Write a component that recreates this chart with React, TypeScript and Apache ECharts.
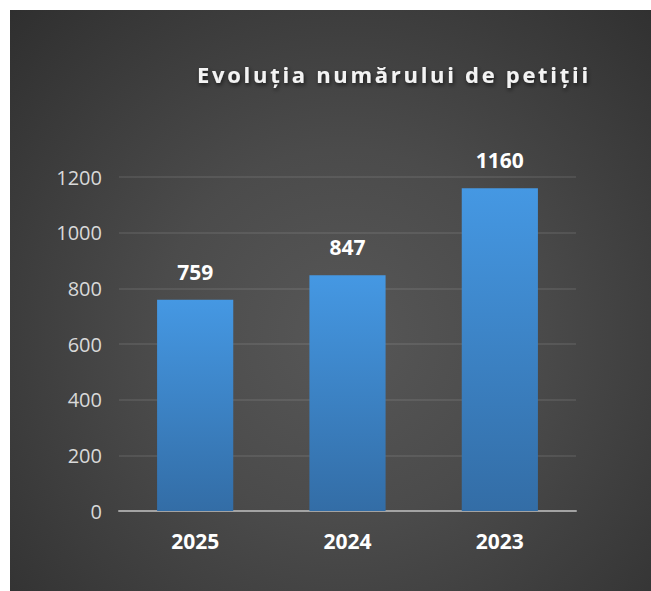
import React, { useEffect, useRef } from "react";
import * as echarts from "echarts";

const titleText = "Evoluția numărului de petiții";
const categories = ["2025", "2024", "2023"];
const petitions = [759, 847, 1160];
const yMin = 0;
const yMax = 1200;
const yStep = 200;

const TITLE_FILL = "#f3f3f3";

export default function App() {
  const ref = useRef<HTMLDivElement>(null);

  useEffect(() => {
    if (!ref.current) return;
    const chart = echarts.init(ref.current, undefined, { renderer: "svg" });
    chart.setOption({
      animation: false,
      backgroundColor: "transparent",
      title: {
        text: titleText,
        left: 197,
        top: 59,
        padding: 0,
        textStyle: {
          color: TITLE_FILL,
          fontFamily: "Open Sans",
          fontWeight: "bold",
          fontSize: 22,
          lineHeight: 30,
          textShadowColor: "rgba(0,0,0,0.65)",
          textShadowBlur: 4,
          textShadowOffsetX: 1,
          textShadowOffsetY: 2,
        },
      },
      grid: { left: 119, right: 75, top: 177, bottom: 80, containLabel: false },
      xAxis: {
        type: "category",
        data: categories,
        axisLine: { show: true, lineStyle: { color: "#a3a3a3", width: 2 } },
        axisTick: { show: false },
        axisLabel: {
          color: "#ffffff",
          fontFamily: "Open Sans",
          fontWeight: "bold",
          fontSize: 21,
          lineHeight: 22,
          margin: 19,
        },
      },
      yAxis: {
        type: "value",
        min: yMin,
        max: yMax,
        interval: yStep,
        axisLine: { show: false },
        axisTick: { show: false },
        splitLine: { lineStyle: { color: "rgba(255,255,255,0.11)", width: 1.5 } },
        axisLabel: {
          color: "#d9d9d9",
          fontFamily: "Open Sans",
          fontSize: 20,
          margin: 17,
          formatter: (v: number) => String(v),
        },
      },
      series: [
        {
          type: "bar",
          data: petitions,
          barWidth: "50%",
          itemStyle: {
            color: new echarts.graphic.LinearGradient(0, 0, 0, 1, [
              { offset: 0, color: "#4598e3" },
              { offset: 1, color: "#336da6" },
            ]),
          },
          label: {
            show: true,
            position: "top",
            distance: 17,
            color: "#ffffff",
            fontFamily: "Open Sans",
            fontWeight: "bold",
            fontSize: 21,
            lineHeight: 22,
          },
        },
      ],
    });
    return () => chart.dispose();
  }, []);

  return (
    <div style={{ position: "absolute", left: 0, top: 0, width: 651, height: 591, background: "#ffffff" }}>
      <style>{`text[fill="${TITLE_FILL}"] { letter-spacing: 2.7px; }`}</style>
      <div
        style={{
          position: "absolute",
          left: 10,
          top: 10,
          width: 641,
          height: 581,
          background:
            "radial-gradient(circle at 52% 56%, #575757 0%, #4b4b4b 40%, #2f2f2f 100%)",
        }}
      />
      <div ref={ref} style={{ position: "absolute", left: 0, top: 0, width: 651, height: 591 }} />
    </div>
  );
}
